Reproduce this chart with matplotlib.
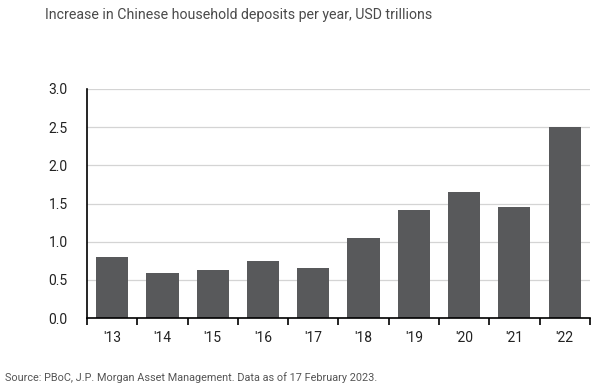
import numpy as np
from matplotlib import pyplot as plt
from matplotlib.ticker import MultipleLocator, FixedLocator

# =============================================================================
# Data
# =============================================================================
years = ["'13", "'14", "'15", "'16", "'17", "'18", "'19", "'20", "'21", "'22"]
deposits = [0.80, 0.59, 0.63, 0.75, 0.66, 1.05, 1.41, 1.65, 1.45, 2.50]

title = "Increase in Chinese household deposits per year, USD trillions"
source = "Source: PBoC, J.P. Morgan Asset Management. Data as of 17 February 2023."

# =============================================================================
# Plot
# =============================================================================
plt.rcParams['font.family'] = ['Roboto', 'DejaVu Sans']

fig = plt.figure(figsize=(6, 3.88), dpi=100)
ax = fig.add_axes([0.145, 0.180, 0.838, 0.591])

x = np.arange(len(years))
ax.bar(x, deposits, width=0.64, color="#58595b", zorder=3)

ax.set_xlim(-0.5, len(years) - 0.5)
ax.set_ylim(0, 3.0)
ax.yaxis.set_major_locator(MultipleLocator(0.5))
ax.yaxis.set_major_formatter(plt.FuncFormatter(lambda v, p: f"{v:.1f}"))
ax.grid(axis="y", color="#d4d4d4", linewidth=0.9, zorder=0)

ax.set_xticks(x)
ax.set_xticklabels(years)
ax.xaxis.set_minor_locator(FixedLocator(np.arange(-0.5, len(years), 1.0)))
ax.tick_params(axis="x", which="major", length=0, pad=9, labelsize=10, labelcolor="#222222")
ax.tick_params(axis="x", which="minor", length=5, width=1.2, direction="out", color="black")
ax.tick_params(axis="y", length=0, pad=14, labelsize=10, labelcolor="#222222")

for s in ["top", "right"]:
    ax.spines[s].set_visible(False)
ax.spines["left"].set_linewidth(1.2)
ax.spines["bottom"].set_linewidth(1.2)
ax.spines["left"].set_zorder(4)
ax.spines["bottom"].set_zorder(4)

fig.text(0.075, 0.962, title, fontsize=10.2, color="#4a4a4a", va="center")
fig.text(0.008, 0.028, source, fontsize=7.8, color="#555555", va="center")

fig.savefig("out.png", dpi=100)
